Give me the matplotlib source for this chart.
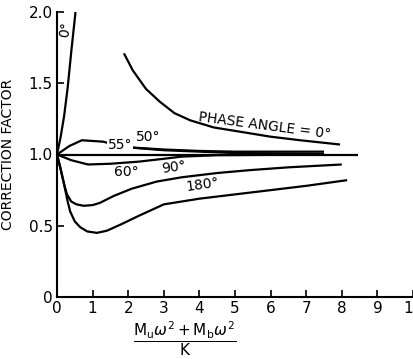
import numpy as np
import matplotlib
matplotlib.use("Agg")
import matplotlib.pyplot as plt

plt.rcParams['font.family'] = ['DejaVu Sans']
plt.rcParams['mathtext.fontset'] = 'dejavusans'

# curvas (x = (Mu w^2 + Mb w^2)/K, y = factor de correccion)
x_0a = [0, 0.1, 0.2, 0.3, 0.4, 0.52]
y_0a = [1.0, 1.12, 1.27, 1.47, 1.72, 2.0]

x_0b = [1.88, 2.13, 2.5, 2.89, 3.3, 3.74, 4.4, 5.14, 6.0, 6.83, 7.95]
y_0b = [1.71, 1.59, 1.46, 1.37, 1.29, 1.24, 1.19, 1.16, 1.125, 1.10, 1.07]

x_uno = [0, 8.45]
y_uno = [1.0, 1.0]

x_55 = [0, 0.35, 0.7, 1.3, 1.6, 2.0, 3.0, 4.0, 5.0, 7.5]
y_55 = [1.0, 1.06, 1.10, 1.09, 1.07, 1.05, 1.03, 1.02, 1.01, 1.005]

x_50 = [2.05, 3.0, 4.0, 5.0, 7.5]
y_50 = [1.05, 1.035, 1.025, 1.02, 1.02]

x_60 = [0, 0.4, 0.87, 1.5, 2.3, 3.0, 3.5, 4.5, 7.5]
y_60 = [1.0, 0.96, 0.93, 0.935, 0.95, 0.97, 0.985, 0.995, 1.0]

x_90 = [0, 0.1, 0.2, 0.28, 0.4, 0.55, 0.75, 1.0, 1.2, 1.6, 2.1, 2.8, 3.5, 4.5, 5.4, 6.5, 8.0]
y_90 = [1.0, 0.9, 0.79, 0.72, 0.67, 0.65, 0.64, 0.645, 0.66, 0.71, 0.76, 0.81, 0.84, 0.87, 0.89, 0.91, 0.93]

x_180 = [0, 0.1, 0.2, 0.3, 0.37, 0.5, 0.65, 0.85, 1.12, 1.4, 1.8, 2.3, 3.0, 4.0, 5.0, 6.0, 7.0, 8.15]
y_180 = [1.0, 0.9, 0.79, 0.67, 0.60, 0.53, 0.49, 0.46, 0.45, 0.465, 0.51, 0.57, 0.65, 0.69, 0.72, 0.75, 0.78, 0.82]

xticks = list(range(11))
yticks = [0, 0.5, 1.0, 1.5, 2.0]
ytick_labels = ['0', '0.5', '1.0', '1.5', '2.0']

fig = plt.figure(figsize=(4.14, 3.59), dpi=100)
ax = fig.add_axes([57/414, 62/359, 356/414, 285/359])

for xs, ys in [(x_0a, y_0a), (x_0b, y_0b), (x_uno, y_uno), (x_55, y_55),
               (x_50, y_50), (x_60, y_60), (x_90, y_90), (x_180, y_180)]:
    ax.plot(xs, ys, color='black', lw=1.6, solid_capstyle='butt', clip_on=False)

caja = dict(facecolor='white', edgecolor='none', pad=0.5)
ax.text(0.24, 1.88, '0°', rotation=80, fontsize=10, ha='center', va='center')
ax.text(5.84, 1.20, 'PHASE ANGLE = 0°', rotation=-7.5, fontsize=10, ha='center', va='center')
ax.text(1.77, 1.07, '55°', fontsize=10, ha='center', va='center', bbox=caja)
ax.text(2.55, 1.12, '50°', fontsize=10, ha='center', va='center')
ax.text(1.96, 0.88, '60°', fontsize=10, ha='center', va='center')
ax.text(3.27, 0.91, '90°', rotation=8, fontsize=10, ha='center', va='center')
ax.text(4.1, 0.79, '180°', rotation=8, fontsize=10, ha='center', va='center')

ax.set_xlim(0, 10)
ax.set_ylim(0, 2.0)
ax.set_xticks(xticks)
ax.set_yticks(yticks)
ax.set_yticklabels(ytick_labels)
ax.tick_params(direction='in', length=5, width=1.2, labelsize=11, pad=3)
ax.spines['top'].set_visible(False)
ax.spines['right'].set_visible(False)
ax.spines['left'].set_linewidth(1.5)
ax.spines['bottom'].set_linewidth(1.5)

ax.set_ylabel('CORRECTION FACTOR', fontsize=10, labelpad=10)
fig.text(185/414, 20/359, r'$\dfrac{\mathrm{M_u}\omega^2 + \mathrm{M_b}\omega^2}{\mathrm{K}}$',
         fontsize=11, ha='center', va='center')

fig.savefig('out.png', dpi=100)
